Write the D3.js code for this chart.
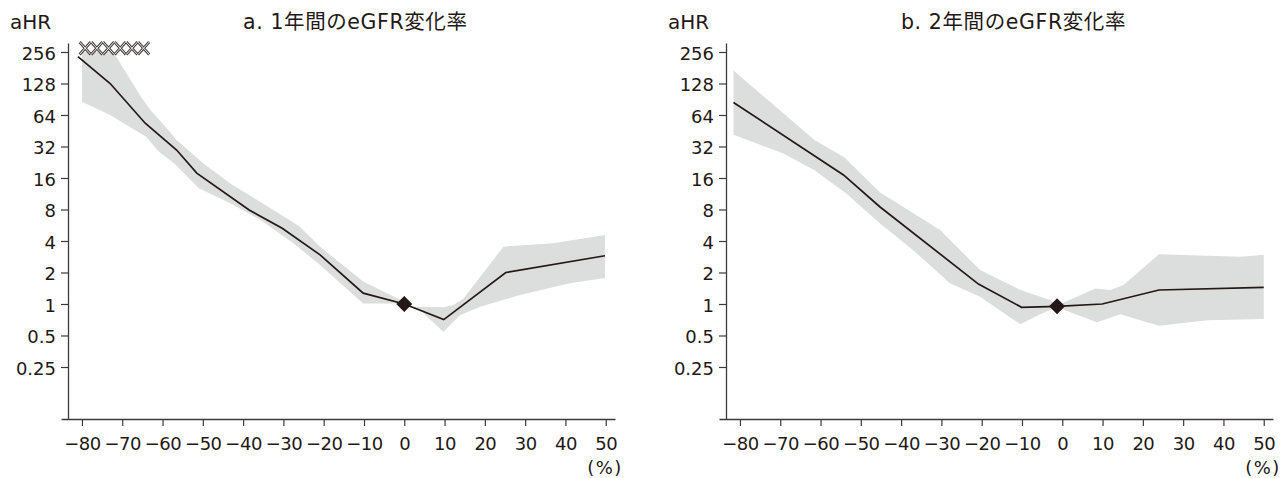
<!DOCTYPE html>
<html lang="ja">
<head>
<meta charset="utf-8">
<script src="https://cdn.jsdelivr.net/npm/d3@7"></script>
<style>
  html, body { margin: 0; padding: 0; background: #fff; }
  svg { display: block; }
  text { font-family: "DejaVu Sans", "Noto Sans CJK JP", sans-serif; fill: #231815; }
</style>
</head>
<body>
<svg id="chart" width="1280" height="478"></svg>
<script>
// Axis ticks shared by both panels
const xTicks = [-80, -70, -60, -50, -40, -30, -20, -10, 0, 10, 20, 30, 40, 50];
const yTicks = [256, 128, 64, 32, 16, 8, 4, 2, 1, 0.5, 0.25];
const yTickLabels = ["256", "128", "64", "32", "16", "8", "4", "2", "1", "0.5", "0.25"];

// Panel titles
const titles = ["a. 1年間のeGFR変化率", "b. 2年間のeGFR変化率"];

// a: 1-year eGFR change — adjusted hazard ratio curve
const aLineX  = [-81, -73, -64.3, -56.5, -51.5, -38.5, -30.3, -20.9, -10.2, 0, 9.8, 25.2, 49.8];
const aLineHR = [231, 128, 53.4, 29.6, 17.8, 7.9, 5.3, 2.95, 1.27, 1, 0.71, 2.0, 2.89];
// a: 95% CI, upper and lower edges
const aUpperX  = [-80, -72.2, -65.6, -63, -58.2, -56.5, -50, -43.2, -29.2, -25.9, -20.9, -10.2, 0, 2.2, 9.7, 12.2, 14.7, 24.6, 37, 49.8];
const aUpperHR = [256, 256, 99, 71.5, 44.3, 37, 22.2, 14.2, 6.6, 5.46, 3.53, 1.64, 1.05, 0.94, 0.93, 0.98, 1.13, 3.53, 3.81, 4.56];
const aLowerX  = [-80, -73, -64, -61, -57, -51, -43.2, -35.8, -27.5, -20.9, -10.2, -1.9, 0, 3.9, 9.7, 13.8, 18.8, 28.7, 41.1, 49.8];
const aLowerHR = [85.6, 64, 39.4, 28.8, 21.9, 12.8, 9.2, 6.4, 3.8, 2.36, 1.01, 1.01, 1.0, 0.88, 0.54, 0.78, 0.94, 1.22, 1.58, 1.77];
// a: reference point and out-of-range markers
const aRef = { x: 0, hr: 1 };
const aClipX = [-79.2, -76.3, -73.4, -70.5, -67.6, -64.7];

// b: 2-year eGFR change
const bLineX  = [-81.6, -54.3, -45.3, -20.8, -10.1, -1.3, 9.9, 24, 50];
const bLineHR = [84.4, 17.1, 8.5, 1.55, 0.93, 0.95, 1.0, 1.36, 1.44];
const bUpperX  = [-81.6, -61.5, -54.1, -45.3, -30.3, -20.4, -10.4, -3, -1.3, 8.2, 11.9, 15.2, 24, 44.3, 50];
const bUpperHR = [170, 37, 25.3, 11.7, 5.1, 2.11, 1.36, 1.09, 0.97, 1.41, 1.36, 1.52, 2.99, 2.83, 2.95];
const bLowerX  = [-81.6, -69.2, -61.5, -53.6, -45.3, -37, -27.9, -20.4, -10.4, -5.5, -1.3, 8.6, 14.4, 24, 36, 50];
const bLowerHR = [41.4, 27.5, 19.0, 11.4, 5.9, 3.27, 1.58, 1.17, 0.64, 0.80, 0.93, 0.67, 0.80, 0.62, 0.70, 0.72];
const bRef = { x: -1.3, hr: 0.95 };
const bClipX = [];

const panels = [
  { title: titles[0], lineX: aLineX, lineHR: aLineHR, upX: aUpperX, upHR: aUpperHR, loX: aLowerX, loHR: aLowerHR, ref: aRef, clipX: aClipX },
  { title: titles[1], lineX: bLineX, lineHR: bLineHR, upX: bUpperX, upHR: bUpperHR, loX: bLowerX, loHR: bLowerHR, ref: bRef, clipX: bClipX }
];

const ink = "#231815";
const axisInk = "#3e3a39";
const bandFill = "#dcdddd";

const svg = d3.select("#chart");

// scales (same for each panel, panels shifted horizontally)
const x = d3.scaleLinear().domain([-85.2, 52.3]).range([61, 615]);
const y = d3.scaleLog().base(2).domain([0.0796, 312]).range([419, 43]);
const yAxisX = 68;
const panelShift = 658;

panels.forEach((p, i) => {
  const g = svg.append("g").attr("transform", `translate(${i * panelShift},0)`);

  // confidence band
  const upper = p.upX.map((v, k) => [v, p.upHR[k]]);
  const lower = p.loX.map((v, k) => [v, p.loHR[k]]).reverse();
  const bandLine = d3.line().x(d => x(d[0])).y(d => y(d[1]));
  g.append("path")
    .attr("d", bandLine(upper.concat(lower)) + "Z")
    .attr("fill", bandFill)
    .attr("stroke", "none");

  // estimate line
  const pts = p.lineX.map((v, k) => [v, p.lineHR[k]]);
  g.append("path")
    .attr("d", d3.line().x(d => x(d[0])).y(d => y(d[1]))(pts))
    .attr("fill", "none")
    .attr("stroke", ink)
    .attr("stroke-width", 1.7)
    .attr("stroke-linejoin", "miter");

  // reference diamond
  g.append("path")
    .attr("d", d3.symbol(d3.symbolSquare, 128)())
    .attr("transform", `translate(${x(p.ref.x)},${y(p.ref.hr)}) rotate(45)`)
    .attr("fill", ink);

  // markers for estimates beyond the top of the axis
  const yClip = y(278);
  p.clipX.forEach(v => {
    const cx = x(v), s = 5.6, t = 6.2;
    const d = `M${cx - s},${yClip - t}L${cx + s},${yClip + t}M${cx + s},${yClip - t}L${cx - s},${yClip + t}`;
    g.append("path").attr("d", d).attr("stroke", "#4a4242").attr("stroke-width", 2.8).attr("fill", "none");
    g.append("path").attr("d", d).attr("stroke", "#fff").attr("stroke-width", 0.9).attr("fill", "none");
  });

  // y axis
  const yAxis = d3.axisLeft(y)
    .tickValues(yTicks)
    .tickFormat((d, k) => yTickLabels[k])
    .tickSize(7)
    .tickSizeOuter(0)
    .tickPadding(5);
  const ya = g.append("g").attr("transform", `translate(${yAxisX},0)`).call(yAxis);

  // x axis
  const xAxis = d3.axisBottom(x)
    .tickValues(xTicks)
    .tickFormat(d => d < 0 ? "\u2212" + Math.abs(d) : String(d))
    .tickSize(7)
    .tickSizeOuter(0)
    .tickPadding(5);
  const xa = g.append("g").attr("transform", `translate(0,${y.range()[0]})`).call(xAxis);

  [ya, xa].forEach(a => {
    a.select(".domain").attr("stroke", axisInk).attr("stroke-width", 1.3);
    a.selectAll(".tick line").attr("stroke", axisInk).attr("stroke-width", 1.2);
    a.selectAll(".tick text").attr("fill", ink).style("font-size", "18px").attr("font-family", null);
  });
  ya.selectAll(".tick text").attr("dy", "0.4em");
  xa.selectAll(".tick text").attr("y", 31).attr("dy", null).style("letter-spacing", "-0.5px");

  // axis captions and title
  g.append("text").attr("x", 10).attr("y", 29).style("font-size", "20px").text("aHR");
  g.append("text").attr("x", 243).attr("y", 29).style("font-size", "20.5px").style("letter-spacing", "0.6px").text(p.title);
  g.append("text").attr("x", 605).attr("y", 474).attr("text-anchor", "middle").style("font-size", "18px").style("letter-spacing", "1.5px").text("(%)");
});
</script>
</body>
</html>
